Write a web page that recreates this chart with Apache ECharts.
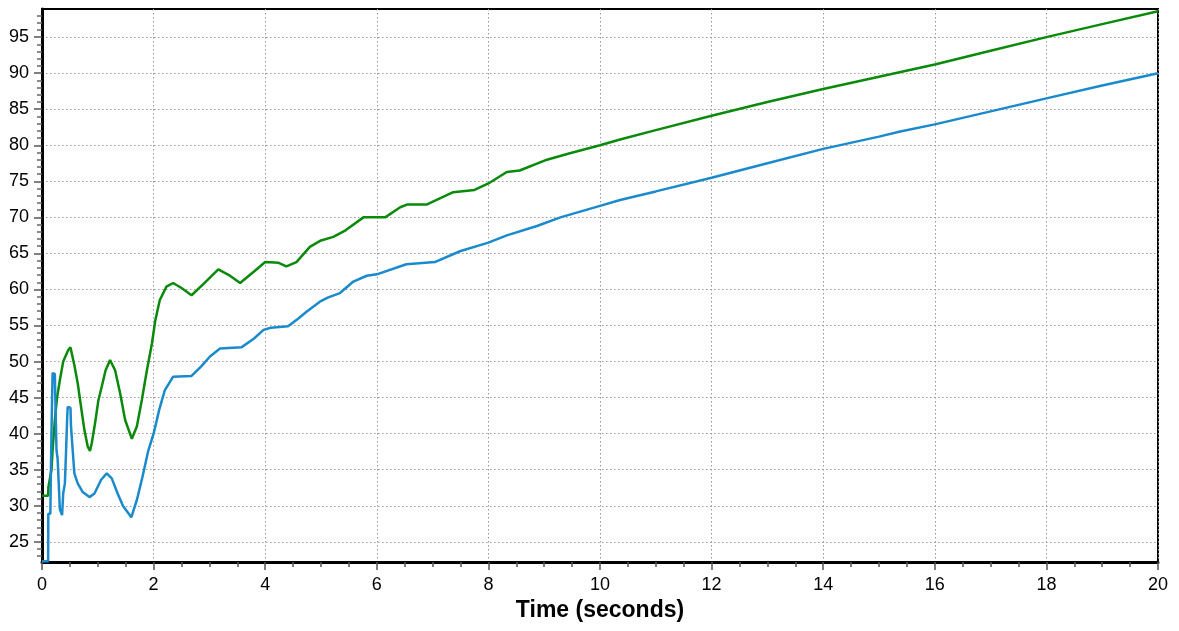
<!DOCTYPE html>
<html>
<head>
<meta charset="utf-8">
<script src="https://cdn.jsdelivr.net/npm/echarts@6/dist/echarts.min.js"></script>
<style>
html,body{margin:0;padding:0;background:#fff;}
#chart{width:1179px;height:631px;}
</style>
</head>
<body>
<div id="chart"></div>
<script>
// ---- data ----
const xTitle = 'Time (seconds)';
const yMajorTicks = [25, 30, 35, 40, 45, 50, 55, 60, 65, 70, 75, 80, 85, 90, 95];
const yMinorTicks = [23,24,26,27,28,29,31,32,33,34,36,37,38,39,41,42,43,44,46,47,48,49,51,52,53,54,56,57,58,59,61,62,63,64,66,67,68,69,71,72,73,74,76,77,78,79,81,82,83,84,86,87,88,89,91,92,93,94,96,97,98];

const greenTime = [0, 0.11, 0.115, 0.15, 0.17, 0.19, 0.23, 0.27, 0.32, 0.38, 0.47, 0.51, 0.58, 0.64, 0.70, 0.76, 0.82, 0.86, 0.89, 0.95, 1.01, 1.07, 1.14, 1.22, 1.31, 1.40, 1.49, 1.61, 1.70, 1.79, 1.88, 1.97, 2.03, 2.11, 2.23, 2.35, 2.5, 2.68, 2.9, 3.16, 3.35, 3.55, 3.8, 4.0, 4.24, 4.38, 4.56, 4.8, 5.0, 5.22, 5.44, 5.76, 6.15, 6.42, 6.55, 6.9, 7.37, 7.75, 8.0, 8.33, 8.56, 9.05, 9.46, 10, 10.36, 11, 12, 13, 14, 15, 16, 17, 18, 19, 20];
const greenValue = [31.4, 31.4, 32.6, 32.6, 35.0, 37.7, 41.9, 45.0, 47.4, 50.0, 51.6, 52.0, 49.5, 47.0, 43.7, 40.5, 38.2, 37.6, 38.6, 41.4, 44.6, 46.5, 48.8, 50.2, 48.8, 45.6, 41.9, 39.3, 41.0, 44.7, 48.8, 52.5, 55.7, 58.5, 60.4, 60.9, 60.2, 59.2, 60.8, 62.8, 62.0, 60.9, 62.5, 63.8, 63.7, 63.2, 63.8, 65.9, 66.8, 67.3, 68.2, 70.0, 70.0, 71.4, 71.8, 71.8, 73.5, 73.8, 74.7, 76.3, 76.5, 78.0, 78.9, 80.0, 80.8, 82.1, 84.1, 86.0, 87.8, 89.5, 91.2, 93.1, 95.0, 96.8, 98.6];

const blueTime = [0, 0.11, 0.113, 0.15, 0.16, 0.173, 0.185, 0.19, 0.23, 0.24, 0.26, 0.28, 0.30, 0.32, 0.36, 0.38, 0.41, 0.43, 0.45, 0.46, 0.51, 0.52, 0.55, 0.58, 0.64, 0.73, 0.85, 0.94, 1.06, 1.16, 1.25, 1.35, 1.45, 1.6, 1.7, 1.8, 1.9, 2.0, 2.1, 2.2, 2.35, 2.68, 2.85, 3.01, 3.19, 3.58, 3.8, 3.97, 4.1, 4.41, 4.6, 4.74, 4.98, 5.13, 5.34, 5.58, 5.82, 6.0, 6.53, 7.04, 7.49, 8.0, 8.33, 8.87, 9.29, 10, 10.36, 11, 12, 13, 14, 15, 15.38, 16, 17, 18, 19, 20];
const blueValue = [22.3, 22.3, 28.9, 28.9, 35.0, 41.6, 41.8, 48.4, 48.3, 44.6, 37.7, 36.5, 33.1, 29.5, 28.7, 31.7, 33.1, 37.3, 41.9, 43.7, 43.6, 41.0, 37.7, 34.5, 33.1, 31.9, 31.2, 31.7, 33.6, 34.5, 33.8, 31.8, 30.0, 28.4, 30.8, 34.0, 37.5, 40.0, 43.3, 46.0, 47.9, 48.0, 49.3, 50.7, 51.8, 52.0, 53.2, 54.4, 54.7, 54.9, 56.0, 56.9, 58.3, 58.9, 59.5, 61.1, 61.9, 62.1, 63.5, 63.8, 65.3, 66.5, 67.5, 68.8, 70.0, 71.6, 72.4, 73.6, 75.5, 77.5, 79.5, 81.2, 81.9, 82.9, 84.7, 86.5, 88.3, 90.0];

const pairs = (ts, vs) => ts.map((t, i) => [t, vs[i]]);

const chart = echarts.init(document.getElementById('chart'));
const gridStyle = { color: '#9a9a9a', width: 1, type: [1.5, 2.5] };
const font = '"Liberation Sans", Arial, Helvetica, sans-serif';

chart.setOption({
  animation: false,
  backgroundColor: '#fff',
  grid: { left: 42, right: 21, top: 9, bottom: 69, show: true, borderColor: '#000', borderWidth: 2, containLabel: false },
  xAxis: {
    type: 'value', min: 0, max: 20, interval: 2,
    name: xTitle, nameLocation: 'middle', nameGap: 37,
    nameTextStyle: { fontFamily: font, fontSize: 23, fontWeight: 'bold', color: '#000' },
    axisLine: { show: true, onZero: false, lineStyle: { color: '#000', width: 3 } },
    axisTick: { show: true, length: 8, lineStyle: { color: '#555', width: 1.5 } },
    minorTick: { show: true, splitNumber: 4, length: 5, lineStyle: { color: '#555', width: 1.5 } },
    axisLabel: { fontFamily: font, fontSize: 18, color: '#000', margin: 14 },
    splitLine: { show: true, lineStyle: gridStyle }
  },
  yAxis: [{
    type: 'value', min: 22.2, max: 98.9,
    axisLine: { show: true, onZero: false, lineStyle: { color: '#000', width: 3 } },
    axisTick: { show: true, length: 8, customValues: yMajorTicks, lineStyle: { color: '#555', width: 1.5 } },
    axisLabel: { fontFamily: font, fontSize: 18, color: '#000', margin: 13, customValues: yMajorTicks },
    splitLine: { show: true, lineStyle: gridStyle }
  }, {
    type: 'value', min: 22.2, max: 98.9, position: 'left', offset: 0,
    axisLine: { show: false },
    axisTick: { show: true, length: 5, customValues: yMinorTicks, lineStyle: { color: '#666', width: 1.5 } },
    axisLabel: { show: false },
    splitLine: { show: false }
  }],
  series: [{
    type: 'line', name: 'green', data: pairs(greenTime, greenValue),
    showSymbol: false, symbol: 'none', clip: true,
    lineStyle: { color: '#0a8a0a', width: 2.5 }, z: 3
  }, {
    type: 'line', name: 'blue', data: pairs(blueTime, blueValue),
    showSymbol: false, symbol: 'none', clip: true,
    lineStyle: { color: '#1a8acc', width: 2.5 }, z: 4
  }]
});
</script>
</body>
</html>
